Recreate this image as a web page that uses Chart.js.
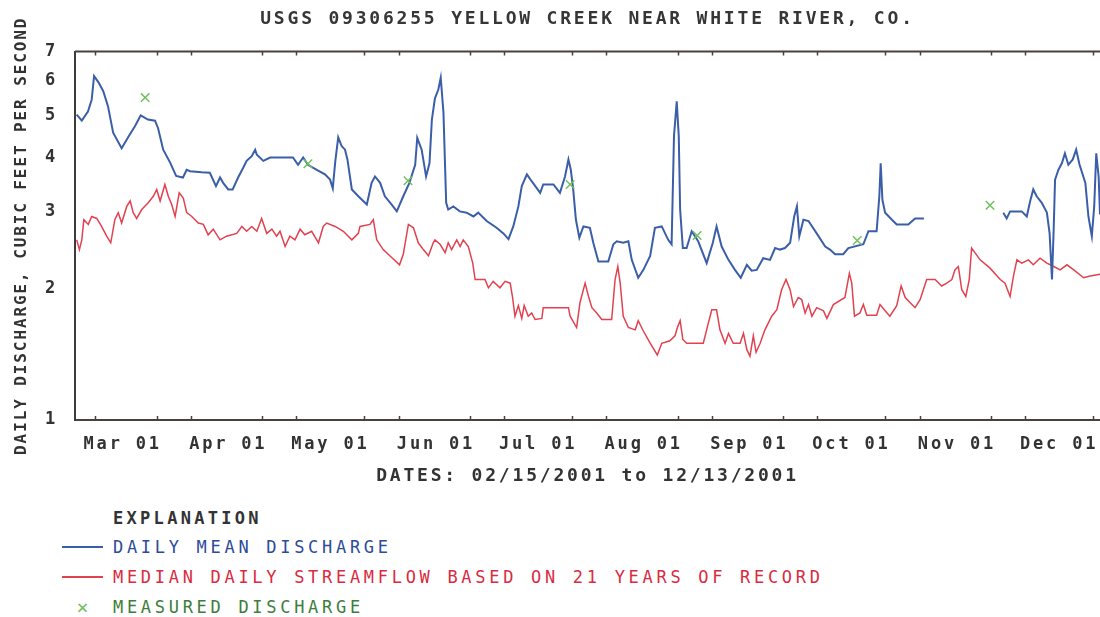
<!DOCTYPE html>
<html>
<head>
<meta charset="utf-8">
<title>USGS 09306255 Yellow Creek near White River, CO.</title>
<script src="https://cdn.jsdelivr.net/npm/chart.js@4.4.1/dist/chart.umd.min.js"></script>
<style>
  html, body { margin: 0; padding: 0; background: #fff; overflow: hidden; }
  #wrap { position: relative; width: 1100px; height: 617px; }
  #myChart { position: absolute; left: 0; top: 0; }
  #legend { position: absolute; left: 0; top: 505px; width: 1100px;
            font-family: 'DejaVu Sans Mono', monospace; font-size: 17px; letter-spacing: 3.7px; }
  #legend .head { height: 27px; line-height: 27px; padding-left: 113px; color: #333; font-weight: bold; letter-spacing: 3.3px; }
  #legend .row { height: 30px; display: flex; align-items: center; }
  #legend .mark { width: 41px; margin-left: 62px; margin-right: 10px; text-align: center; letter-spacing: 0; }
  #legend .mark.line { height: 0; }
</style>
</head>
<body>
<div id="wrap">
  <canvas id="myChart" width="1100" height="495"></canvas>
  <div id="legend"></div>
</div>
<script>
// days counted from 02/15/2001 (day 0) to 12/13/2001 (day 301)
var monthDays = [14, 45, 75, 106, 136, 167, 198, 228, 259, 289];
var monthLabels = ['Mar 01', 'Apr 01', 'May 01', 'Jun 01', 'Jul 01', 'Aug 01', 'Sep 01', 'Oct 01', 'Nov 01', 'Dec 01'];
// small marks on the frame (11th and 21st of each month)
var frameTickDays = [6, 24, 34, 55, 65, 85, 95, 116, 126, 146, 156, 177, 187, 208, 218, 238, 248, 269, 279, 299];
var yTicks = [1, 2, 3, 4, 5, 6, 7];

// daily mean discharge (null = no record)
var meanDays = [0.5, 2, 3.8, 4.9, 5.6, 6.9, 8.3, 9.7, 11.2, 13.7, 15.6, 17.6, 19.3, 21.4, 23.5, 24.4, 25.9, 27.9, 29.7, 31.7,
  32.8, 33.8, 37.2, 39.6, 41.4, 42.6, 43.5, 45, 46.3, 47.9, 49.4, 50.4, 51.9, 52.9, 53.4, 55.3, 57.3, 64, 65.5, 67,
  68.4, 71, 73.4, 74.9, 75.7, 76.4, 77.3, 78.3, 79.3, 80, 81.3, 83.2, 85.7, 87.1, 88.1, 89.6, 91, 93, 94.5, 96.4,
  98.2, 99.9, 100.5, 101.8, 103.1, 104.1, 104.8, 105.7, 106.7, 107.4, 108.2, 109, 109.6, 111.1, 113, 115, 117, 118.4, 120.9, 123.8,
  125.8, 127.3, 128.7, 130.2, 131.2, 132.7, 134.1, 136.6, 137.5, 140.5, 142.4, 143.9, 144.9, 145.6, 146.3, 147.1, 148.1, 149.3, 151.2, 152.2,
  153.7, 156.6, 158.1, 159.1, 161, 162.5, 163.5, 165.4, 166.9, 168.9, 170.3, 172.3, 174.2, 175.2, 175.9, 176.7, 177.3, 177.7, 178.5, 179.6,
  181.1, 183, 185.5, 187.3, 188.4, 189.9, 191.9, 193.8, 195.5, 197.3, 198.7, 200.2, 202.1, 204.1, 205.6, 207, 208.5, 210, 211.2, 212,
  212.7, 213.9, 215.4, 217.8, 220.3, 221.7, 223.2, 225.6, 227.1, 231.5, 233, 235.4, 236.2, 236.6, 237.1, 237.9, 239.9, 241.3, 244.7, 246.7,
  249.3, 260, 272.6, 273.6, 274.6, 278, 279.5, 280.5, 281.4, 282.4, 283.9, 285.4, 286.2, 286.9, 287.4, 287.8, 288.8, 289.8, 290.7, 291.7,
  293, 294, 295, 296.7, 297.6, 298.6, 299.3, 299.9, 300.6, 301];
var meanValues = [5.02, 4.86, 5.1, 5.43, 6.15, 5.95, 5.68, 5.24, 4.56, 4.2, 4.45, 4.72, 5.0, 4.89, 4.86, 4.67, 4.17, 3.9, 3.63, 3.6,
  3.75, 3.72, 3.7, 3.69, 3.44, 3.6, 3.5, 3.38, 3.38, 3.6, 3.79, 3.93, 4.03, 4.17, 4.06, 3.93, 4.0, 4.0, 3.85, 4.0,
  3.85, 3.75, 3.66, 3.56, 3.4, 3.9, 4.45, 4.25, 4.17, 3.96, 3.38, 3.26, 3.12, 3.5, 3.62, 3.5, 3.26, 3.12, 3.01, 3.26,
  3.5, 3.85, 4.44, 4.17, 3.62, 3.88, 4.89, 5.47, 5.73, 6.1, 5.07, 3.15, 3.04, 3.09, 3.01, 2.99, 2.93, 2.99, 2.86, 2.76,
  2.68, 2.6, 2.78, 3.09, 3.44, 3.66, 3.53, 3.32, 3.47, 3.47, 3.32, 3.62, 3.96, 3.75, 3.38, 2.88, 2.62, 2.78, 2.76, 2.55,
  2.31, 2.31, 2.53, 2.57, 2.55, 2.57, 2.33, 2.12, 2.21, 2.38, 2.76, 2.78, 2.59, 2.53, 4.48, 5.38, 4.48, 3.04, 2.48, 2.48,
  2.71, 2.57, 2.29, 2.55, 2.78, 2.5, 2.33, 2.21, 2.12, 2.27, 2.2, 2.21, 2.35, 2.33, 2.48, 2.46, 2.48, 2.55, 2.93, 3.09,
  2.64, 2.88, 2.86, 2.68, 2.5, 2.46, 2.4, 2.4, 2.48, 2.53, 2.71, 2.71, 3.26, 3.88, 3.2, 2.99, 2.88, 2.81, 2.81, 2.9,
  2.9, null, 2.99, 2.9, 3.01, 3.01, 2.93, 3.18, 3.38, 3.26, 3.15, 2.99, 2.68, 2.1, 2.74, 3.56, 3.75, 3.88, 4.09, 3.85,
  3.96, 4.17, 3.85, 3.5, 2.93, 2.64, 3.09, 4.09, 3.62, 2.96];

// median daily streamflow, 21 years of record
var medianDays = [0.5, 1.3, 2, 2.6, 3.9, 4.9, 6.4, 7.8, 9.3, 10.5, 11.7, 12.7, 13.7, 15.2, 16.2, 17.1, 18.1, 19.6, 21.5, 23,
  24, 25, 26.4, 27.4, 28.4, 29.4, 30.6, 31.8, 32.8, 34.3, 36.2, 37.7, 39.1, 40.6, 42.6, 44.5, 47.5, 49, 50.4, 51.9,
  53.4, 54.8, 56.3, 57.8, 59.2, 60.2, 61.7, 63.1, 64.6, 66.1, 67.5, 69.5, 71.5, 72.9, 73.9, 76.4, 78.8, 81.3, 83.2, 83.7,
  86.6, 87.6, 88.6, 90.5, 93, 95.3, 96.4, 97.9, 99.4, 100.8, 102.3, 103.8, 105.2, 105.7, 107.2, 108.7, 109.6, 110.6, 112.1, 113.1,
  114, 115.5, 116.8, 117.5, 120.4, 121.4, 122.8, 124.8, 126.3, 127.8, 128.5, 129.2, 130.2, 131.2, 131.9, 133.1, 134.1, 135.1, 137.1, 137.5,
  144.9, 145.4, 147.3, 148.3, 149.8, 150.8, 151.8, 153.2, 154.7, 157.6, 158.6, 159.4, 160.1, 161, 162.5, 164.5, 165.4, 166.9, 168.9, 171,
  172.3, 174.7, 176.2, 176.9, 177.7, 178.5, 179.6, 184.5, 186, 187, 188.4, 189.4, 190.9, 191.9, 193.3, 195.3, 196.3, 197.3, 198.2, 199.2,
  200, 201.2, 202.6, 204.6, 206.1, 207.5, 208.8, 210, 211, 212.4, 213.4, 214.4, 215.4, 216.4, 217.8, 219.8, 220.8, 222.7, 226.1, 227.4,
  228.1, 228.9, 230.5, 231.5, 232.5, 235.4, 236.4, 237.9, 239.3, 241.3, 242.6, 243.8, 245.2, 246.7, 248.2, 250.1, 252.6, 254.5, 256, 257.5,
  258.4, 259.4, 260.4, 261.6, 262.6, 263.3, 265.8, 268.7, 271.7, 273.1, 274.6, 275.6, 276.6, 278, 280, 281.4, 283.4, 285.4, 287.4, 289.3,
  291.3, 293.3, 296.2, 298.1, 301];
var medianValues = [2.59, 2.46, 2.59, 2.88, 2.81, 2.93, 2.9, 2.78, 2.64, 2.55, 2.88, 2.99, 2.83, 3.09, 3.18, 2.99, 2.9, 3.04, 3.15, 3.26,
  3.38, 3.18, 3.47, 3.26, 3.12, 2.93, 3.32, 3.23, 2.99, 2.93, 2.83, 2.81, 2.66, 2.74, 2.59, 2.64, 2.68, 2.78, 2.71, 2.78,
  2.71, 2.9, 2.68, 2.74, 2.64, 2.71, 2.5, 2.64, 2.59, 2.74, 2.66, 2.71, 2.55, 2.78, 2.83, 2.78, 2.71, 2.59, 2.68, 2.78,
  2.81, 2.88, 2.59, 2.46, 2.36, 2.27, 2.4, 2.81, 2.76, 2.55, 2.46, 2.38, 2.55, 2.59, 2.53, 2.42, 2.55, 2.46, 2.59, 2.5,
  2.59, 2.5, 2.29, 2.1, 2.1, 2.01, 2.08, 2.01, 2.08, 2.06, 1.91, 1.73, 1.83, 1.71, 1.83, 1.73, 1.76, 1.7, 1.71, 1.81,
  1.81, 1.73, 1.63, 1.86, 2.06, 1.92, 1.81, 1.76, 1.7, 1.7, 2.1, 2.25, 2.06, 1.73, 1.63, 1.61, 1.69, 1.6, 1.5, 1.41,
  1.5, 1.52, 1.56, 1.63, 1.69, 1.53, 1.5, 1.5, 1.67, 1.79, 1.79, 1.61, 1.5, 1.58, 1.5, 1.5, 1.58, 1.45, 1.4, 1.56,
  1.43, 1.5, 1.61, 1.73, 1.79, 1.99, 2.1, 1.99, 1.82, 1.91, 1.89, 1.76, 1.84, 1.73, 1.81, 1.78, 1.71, 1.84, 1.91, 2.17,
  2.06, 1.73, 1.76, 1.84, 1.74, 1.74, 1.84, 1.78, 1.73, 1.83, 2.03, 1.91, 1.86, 1.81, 1.89, 2.1, 2.1, 2.03, 2.06, 2.1,
  2.21, 2.25, 1.99, 1.92, 2.1, 2.48, 2.33, 2.23, 2.1, 2.06, 1.92, 2.14, 2.33, 2.29, 2.33, 2.27, 2.35, 2.29, 2.25, 2.21,
  2.27, 2.21, 2.12, 2.14, 2.16];

// field measurements
var measuredDays = [20.6, 68.4, 97.8, 145.4, 182.7, 229.7, 268.7];
var measuredValues = [5.49, 3.87, 3.54, 3.47, 2.65, 2.58, 3.11];

function toPoints(days, values) {
  return days.map(function (d, i) { return { x: d, y: values[i] }; });
}

// canvas has no letter-spacing option in Chart.js, pick one from the font size
var spacingBySize = { 18: '2.8px', 17: '2.8px', 16: '1.9px' };
var letterSpacing = {
  id: 'letterSpacing',
  beforeDraw: function (chart) {
    var ctx = chart.ctx;
    if (ctx._spaced) return;
    var fill = ctx.fillText;
    ctx.fillText = function (text, x, y, w) {
      var m = /(\d+)px/.exec(this.font);
      this.letterSpacing = (m && spacingBySize[m[1]]) || '0px';
      return fill.call(this, text, x, y, w);
    };
    ctx._spaced = true;
  }
};

// top frame line and the small marks on it and on the bottom line
var frame = {
  id: 'frame',
  beforeDatasetsDraw: function (chart) {
    var ctx = chart.ctx, area = chart.chartArea, xs = chart.scales.x;
    ctx.save();
    ctx.strokeStyle = '#4d4038';
    ctx.lineWidth = 2;
    ctx.beginPath();
    ctx.moveTo(area.left, area.top);
    ctx.lineTo(area.right, area.top);
    ctx.stroke();
    ctx.lineWidth = 1.5;
    ctx.beginPath();
    frameTickDays.forEach(function (d) {
      var px = Math.round(xs.getPixelForValue(d)) + 0.5;
      ctx.moveTo(px, area.top);
      ctx.lineTo(px, area.top + 4);
      ctx.moveTo(px, area.bottom);
      ctx.lineTo(px, area.bottom - 4);
    });
    ctx.stroke();
    ctx.restore();
  }
};

var htmlLegend = {
  id: 'htmlLegend',
  afterUpdate: function (chart) {
    var box = document.getElementById('legend');
    var html = '<div class="head">EXPLANATION</div>';
    chart.data.datasets.forEach(function (ds) {
      var mark;
      if (ds.showLine === false) {
        mark = '<span class="mark" style="color:' + ds.borderColor + ';font-size:20px">\u00d7</span>';
      } else {
        mark = '<span class="mark line" style="border-top:2px solid ' + ds.borderColor + '"></span>';
      }
      html += '<div class="row">' + mark + '<span style="color:' + ds.legendColor + '">' + ds.label + '</span></div>';
    });
    box.innerHTML = html;
  }
};

var fontFamily = "'DejaVu Sans Mono', monospace";
var chart;
function InitChart() {
  var ctxChart = document.getElementById('myChart').getContext('2d');
  chart = new Chart(ctxChart, {
    type: 'line',
    data: {
      datasets: [{
        label: 'DAILY MEAN DISCHARGE',
        data: toPoints(meanDays, meanValues),
        borderColor: '#3b5ea8',
        legendColor: '#2d4b98',
        borderWidth: 2,
        pointRadius: 0,
        spanGaps: false,
        order: 2
      }, {
        label: 'MEDIAN DAILY STREAMFLOW BASED ON 21 YEARS OF RECORD',
        data: toPoints(medianDays, medianValues),
        borderColor: '#e2414f',
        legendColor: '#d92b3f',
        borderWidth: 1.5,
        pointRadius: 0,
        order: 3
      }, {
        label: 'MEASURED DISCHARGE',
        data: toPoints(measuredDays, measuredValues),
        showLine: false,
        borderColor: '#72c060',
        legendColor: '#3d7d3b',
        backgroundColor: '#72c060',
        pointStyle: 'crossRot',
        pointRadius: 6,
        pointBorderWidth: 1.5,
        order: 1
      }]
    },
    options: {
      responsive: false,
      animation: false,
      events: [],
      layout: { padding: 0, autoPadding: false },
      elements: { line: { tension: 0 } },
      plugins: {
        legend: { display: false },
        tooltip: { enabled: false },
        title: {
          display: true,
          fullSize: false,
          text: 'USGS 09306255 YELLOW CREEK NEAR WHITE RIVER, CO.',
          color: '#363636',
          font: { family: fontFamily, size: 18, weight: 'bold' },
          padding: { top: 9, bottom: 21 }
        }
      },
      scales: {
        x: {
          type: 'linear',
          min: 0,
          max: 301,
          grid: { display: false, drawTicks: false },
          border: { display: true, color: '#4d4038', width: 2 },
          afterBuildTicks: function (scale) {
            scale.ticks = monthDays.map(function (d) { return { value: d }; });
          },
          afterFit: function (scale) {
            scale.height = 75;
            scale.paddingLeft = 0;
            scale.paddingRight = 0;
          },
          ticks: {
            autoSkip: false,
            maxRotation: 0,
            padding: 14,
            color: '#333',
            font: { family: fontFamily, size: 17, weight: 'bold' },
            callback: function (value) {
              var i = monthDays.indexOf(value);
              return i < 0 ? '' : monthLabels[i];
            }
          },
          title: {
            display: true,
            text: 'DATES: 02/15/2001 to 12/13/2001',
            color: '#333',
            font: { family: fontFamily, size: 18, weight: 'bold' },
            padding: { top: 0, bottom: 8 }
          }
        },
        y: {
          type: 'logarithmic',
          min: 1,
          max: 7,
          grid: { display: false, drawTicks: false },
          border: { display: true, color: '#3c3c3c', width: 2 },
          afterBuildTicks: function (scale) {
            scale.ticks = yTicks.map(function (v) { return { value: v }; });
          },
          afterFit: function (scale) { scale.width = 75; },
          ticks: {
            padding: 17,
            color: '#333',
            font: { family: fontFamily, size: 17, weight: 'bold' },
            callback: function (value) { return String(value); }
          },
          title: {
            display: true,
            text: 'DAILY DISCHARGE, CUBIC FEET PER SECOND',
            color: '#333',
            font: { family: fontFamily, size: 16, weight: 'bold' },
            padding: { top: 12, bottom: 0 }
          }
        }
      }
    },
    plugins: [letterSpacing, frame, htmlLegend]
  });
}

InitChart();
</script>
</body>
</html>
